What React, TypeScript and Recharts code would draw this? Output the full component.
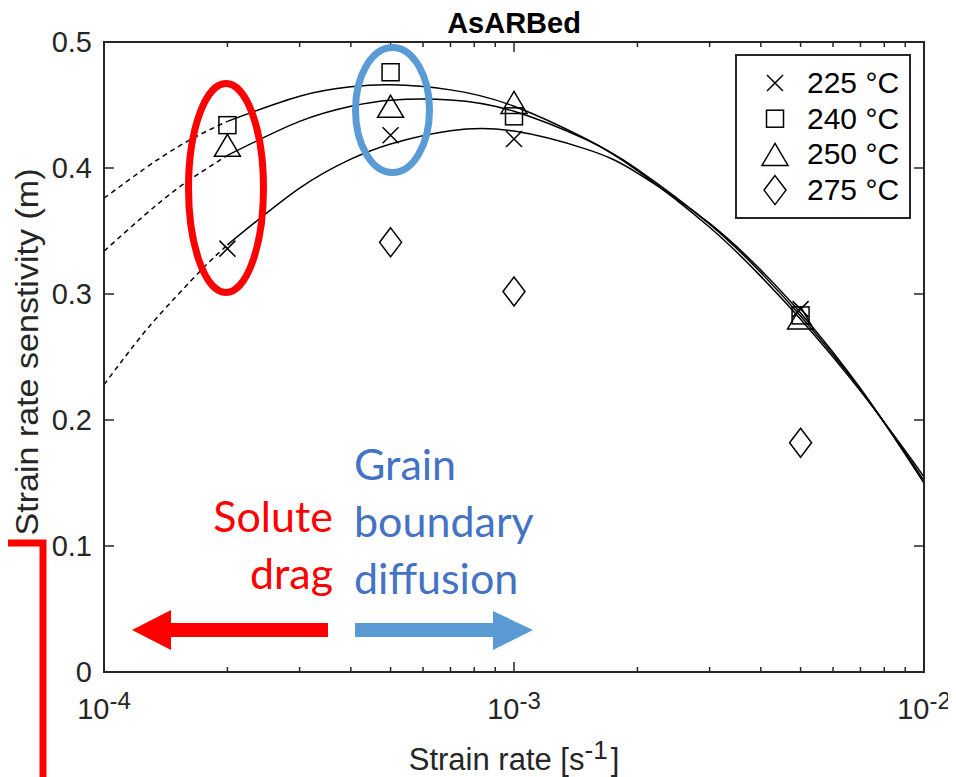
import { ComposedChart, Legend, Line, Scatter, XAxis, YAxis } from 'recharts'

// measured points
const temps = ['225 °C', '240 °C', '250 °C', '275 °C']
const markerKinds = ['x', 'square', 'triangle', 'diamond']
const rates = [2e-4, 5e-4, 1e-3, 5e-3]
const m225 = [0.336, 0.426, 0.423, 0.288]
const m240 = [0.434, 0.476, 0.441, 0.283]
const m250 = [0.418, 0.449, 0.452, 0.281]
const m275 = [null, 0.341, 0.302, 0.182]

// fitted curves (solid part and dashed extrapolation)
const fitRates = [2e-4, 3e-4, 4e-4, 5e-4, 7e-4, 1e-3, 1.5e-3, 2e-3, 3e-3, 4e-3, 5e-3, 7e-3, 1e-2]
const fit225 = [0.339, 0.384, 0.407, 0.419, 0.4295, 0.4293, 0.415, 0.396, 0.356, 0.319, 0.285, 0.225, 0.150]
const fit240 = [0.437, 0.457, 0.4644, 0.466, 0.462, 0.449, 0.423, 0.398, 0.353, 0.314, 0.280, 0.223, 0.155]
const fit250 = [0.410, 0.437, 0.449, 0.4538, 0.454, 0.445, 0.4225, 0.399, 0.3555, 0.317, 0.2825, 0.224, 0.152]
const extRates = [1e-4, 1.25e-4, 1.5e-4, 1.75e-4, 2e-4]
const ext225 = [0.228, 0.269, 0.298, 0.321, 0.339]
const ext240 = [0.376, 0.399, 0.416, 0.428, 0.437]
const ext250 = [0.334, 0.362, 0.383, 0.398, 0.410]

const xTicks = [1e-4, 2e-4, 3e-4, 4e-4, 5e-4, 6e-4, 7e-4, 8e-4, 9e-4, 1e-3, 2e-3, 3e-3, 4e-3, 5e-3, 6e-3, 7e-3, 8e-3, 9e-3, 1e-2]
const yTicks = [0, 0.1, 0.2, 0.3, 0.4, 0.5]

const AX = '#262626'
const FONT = '"Liberation Sans", Arial, Helvetica, sans-serif'
const NOTE_FONT = 'Lato, "Open Sans", sans-serif'

const pts = (xs: number[], ys: (number | null)[]) =>
  xs.map((x, i) => ({ x, m: ys[i] })).filter(d => d.m != null)

const isDecade = (v: number) => Math.abs(Math.log10(v) - Math.round(Math.log10(v))) < 1e-6

const Marker = ({ kind, cx, cy }: { kind: string, cx: number, cy: number }) => {
  const s = { fill: 'none', stroke: '#000', strokeWidth: 1.5 }
  if (kind === 'x') return <path d={`M${cx - 8},${cy - 8}L${cx + 8},${cy + 8}M${cx - 8},${cy + 8}L${cx + 8},${cy - 8}`} {...s}/>
  if (kind === 'square') return <rect x={cx - 8.5} y={cy - 8.5} width={17} height={17} {...s}/>
  if (kind === 'triangle') return <path d={`M${cx},${cy - 11}L${cx + 13},${cy + 11}L${cx - 13},${cy + 11}Z`} {...s}/>
  return <path d={`M${cx},${cy - 14.5}L${cx + 11},${cy}L${cx},${cy + 14.5}L${cx - 11},${cy}Z`} {...s}/>
}

const BottomTick = ({ x, y, payload }: any) => {
  const v = payload.value
  const major = isDecade(v)
  return (
    <g>
      <line x1={x} x2={x} y1={y} y2={y - (major ? 10 : 5)} stroke={AX} strokeWidth={1.5}/>
      {major && (
        <text x={x} y={y + 47} textAnchor="middle" fill={AX} fontFamily={FONT} fontSize={29}>
          10<tspan dy={-10} fontSize={24}>{Math.round(Math.log10(v))}</tspan>
        </text>
      )}
    </g>
  )
}

const TopTick = ({ x, y, payload }: any) => (
  <line x1={x} x2={x} y1={y} y2={y + (isDecade(payload.value) ? 10 : 5)} stroke={AX} strokeWidth={1.5}/>
)

const LeftTick = ({ x, y, payload }: any) => (
  <g>
    <line x1={x} x2={x + 10} y1={y} y2={y} stroke={AX} strokeWidth={1.5}/>
    <text x={x - 12} y={y} dy="0.36em" textAnchor="end" fill={AX} fontFamily={FONT} fontSize={29}>
      {payload.value}
    </text>
  </g>
)

const RightTick = ({ x, y }: any) => (
  <line x1={x} x2={x - 10} y1={y} y2={y} stroke={AX} strokeWidth={1.5}/>
)

const LegendBox = () => (
  <svg width={176} height={165} style={{ display: 'block' }}>
    <rect x={1} y={1} width={174} height={163} fill="#fff" stroke={AX} strokeWidth={2}/>
    {temps.map((t, i) => {
      const cy = 29 + i * 35.7
      return (
        <g key={t}>
          <Marker kind={markerKinds[i]} cx={40} cy={cy}/>
          <text x={72} y={cy + 10} fontFamily={FONT} fontSize={30} fill="#000">{t}</text>
        </g>
      )
    })}
  </svg>
)

const axisLine = { stroke: AX, strokeWidth: 2 }

export default function App() {
  const series = [
    { name: temps[0], kind: markerKinds[0], data: pts(rates, m225) },
    { name: temps[1], kind: markerKinds[1], data: pts(rates, m240) },
    { name: temps[2], kind: markerKinds[2], data: pts(rates, m250) },
    { name: temps[3], kind: markerKinds[3], data: pts(rates, m275) },
  ]
  const fits = [pts(fitRates, fit225), pts(fitRates, fit240), pts(fitRates, fit250)]
  const exts = [pts(extRates, ext225), pts(extRates, ext240), pts(extRates, ext250)]

  return (
    <div style={{ position: 'relative', width: 948, height: 769 }}>
      <ComposedChart width={948} height={769} margin={{ top: 33, right: 31, left: 0, bottom: 0 }}>
        <XAxis xAxisId="b" dataKey="x" type="number" scale="log" domain={[1e-4, 1e-2]} allowDataOverflow
               ticks={xTicks} interval={0} height={105} tickSize={0} tickMargin={0} tickLine={false}
               axisLine={axisLine} tick={(p: any) => <BottomTick {...p}/>}/>
        <XAxis xAxisId="t" orientation="top" dataKey="x" type="number" scale="log" domain={[1e-4, 1e-2]} allowDataOverflow
               ticks={xTicks} interval={0} height={1} tickSize={0} tickMargin={0} tickLine={false}
               axisLine={axisLine} tick={(p: any) => <TopTick {...p}/>}/>
        <YAxis yAxisId="l" type="number" domain={[0, 0.5]} allowDataOverflow ticks={yTicks} interval={0}
               width={96} tickSize={0} tickMargin={0} tickLine={false} axisLine={axisLine}
               tick={(p: any) => <LeftTick {...p}/>}/>
        <YAxis yAxisId="r" orientation="right" type="number" domain={[0, 0.5]} allowDataOverflow ticks={yTicks}
               interval={0} width={1} tickSize={0} tickMargin={0} tickLine={false} axisLine={axisLine}
               tick={(p: any) => <RightTick {...p}/>}/>
        {exts.map((d, i) => (
          <Line key={'e' + i} data={d} dataKey="m" xAxisId="b" yAxisId="l" type="natural" stroke="#000"
                strokeWidth={1.5} strokeDasharray="5 4" dot={false} legendType="none" isAnimationActive={false}/>
        ))}
        {fits.map((d, i) => (
          <Line key={'f' + i} data={d} dataKey="m" xAxisId="b" yAxisId="l" type="natural" stroke="#000"
                strokeWidth={1.5} dot={false} legendType="none" isAnimationActive={false}/>
        ))}
        {series.map(s => (
          <Scatter key={s.name} name={s.name} data={s.data} dataKey="m" xAxisId="b" yAxisId="l"
                   isAnimationActive={false}
                   shape={(p: any) => <Marker kind={s.kind} cx={p.cx} cy={p.cy}/>}/>
        ))}
        <Legend layout="vertical" align="center" verticalAlign="middle" content={() => <LegendBox/>}
                wrapperStyle={{ position: 'absolute', left: 727, top: 46, width: 176, height: 165 }}/>
      </ComposedChart>

      <svg width={956} height={777} style={{ position: 'absolute', left: -8, top: -8, pointerEvents: 'none', overflow: 'visible' }}>
        {/* plot box outline */}
        <rect x={104} y={42} width={820} height={630} fill="none" stroke={AX} strokeWidth={2}/>

        <text x={514} y={33} textAnchor="middle" fontFamily={FONT} fontWeight="bold" fontSize={29} fill="#000">AsARBed</text>
        <text x={514} y={770} textAnchor="middle" fontFamily={FONT} fontSize={31} fill={AX}>
          Strain rate [s<tspan dy={-11} fontSize={26}>-1</tspan><tspan dy={11} dx={3}>]</tspan>
        </text>
        <text x={38} y={352} textAnchor="middle" transform="rotate(-90 38 352)" fontFamily={FONT} fontSize={31}
              textLength={367} lengthAdjust="spacingAndGlyphs" fill={AX}>
          Strain rate senstivity (m)
        </text>

        <ellipse cx={226} cy={188} rx={37.5} ry={104.5} fill="none" stroke="#FF0000" strokeWidth={7}/>
        <ellipse cx={392.5} cy={110} rx={37} ry={62.5} fill="none" stroke="#5B9BD5" strokeWidth={7}/>

        <polygon points="132,630 171,610 171,623 328,623 328,637 171,637 171,650" fill="#FF0000"/>
        <polygon points="355,623 493,623 493,611 533,630 493,650 493,637 355,637" fill="#5B9BD5"/>

        <g fontFamily={NOTE_FONT} fontSize={43}>
          <text x={333} y={532} textAnchor="end" fill="#FF0000">Solute</text>
          <text x={333} y={589} textAnchor="end" fill="#FF0000">drag</text>
          <text x={354} y={480} fill="#4472C4">Grain</text>
          <text x={354} y={537} fill="#4472C4">boundary</text>
          <text x={354} y={594} fill="#4472C4">diffusion</text>
        </g>

        <path d="M0,543 H43 V777" fill="none" stroke="#FF0000" strokeWidth={7}/>
      </svg>
    </div>
  )
}
